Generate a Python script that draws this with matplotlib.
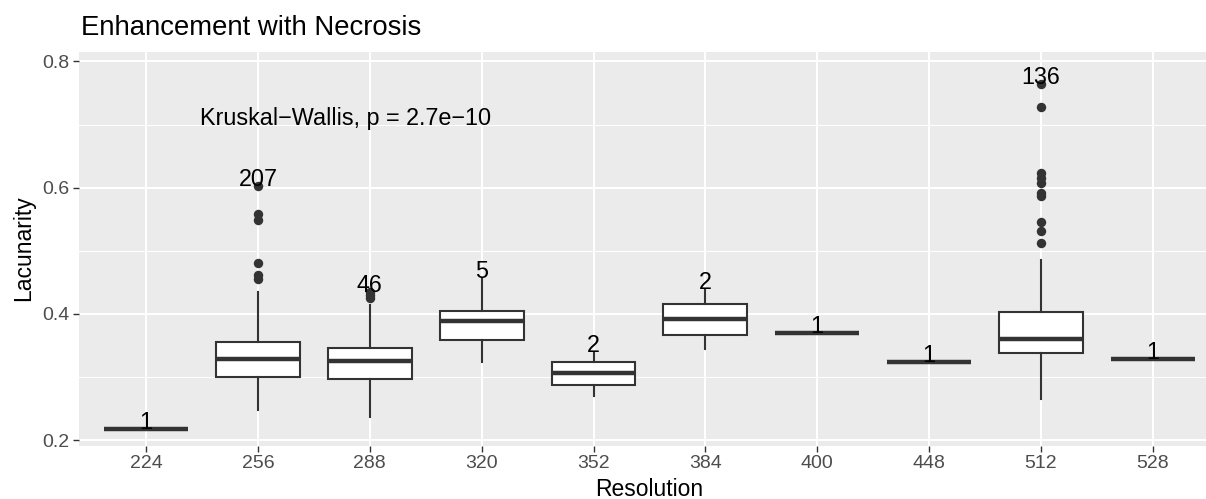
import numpy as np
import matplotlib
matplotlib.use("Agg")
import matplotlib.pyplot as plt

plt.rcParams['font.family'] = ['Liberation Sans', 'DejaVu Sans']

# Data (box stats per resolution)
resolution = ['224', '256', '288', '320', '352', '384', '400', '448', '512', '528']
counts = [1, 207, 46, 5, 2, 2, 1, 1, 136, 1]
q1 = [0.218, 0.2995, 0.2964, 0.3586, 0.2873, 0.3666, 0.3692, 0.3238, 0.3376, 0.3285]
med = [0.218, 0.3285, 0.3260, 0.3887, 0.3060, 0.3915, 0.3692, 0.3238, 0.3597, 0.3285]
q3 = [0.218, 0.3560, 0.3455, 0.4050, 0.3243, 0.4157, 0.3692, 0.3238, 0.4035, 0.3285]
whislo = [0.218, 0.2477, 0.2370, 0.3243, 0.2700, 0.3444, 0.3692, 0.3238, 0.2647, 0.3285]
whishi = [0.218, 0.4350, 0.4141, 0.4564, 0.3400, 0.4390, 0.3692, 0.3238, 0.4854, 0.3285]
outliers = [
    [],
    [0.6032, 0.558, 0.549, 0.480, 0.462, 0.456],
    [0.4346, 0.4300, 0.4252],
    [],
    [],
    [],
    [],
    [],
    [0.7638, 0.7284, 0.6238, 0.616, 0.607, 0.591, 0.5873, 0.546, 0.5314, 0.5119],
    [],
]
test_label = "Kruskal\u2212Wallis, p = 2.7e\u221210"

dark = '#333333'
fig = plt.figure(figsize=(12.06, 4.99), dpi=100)
ax = fig.add_axes([79/1206, 1 - 445.5/499, 1 - 79/1206, (445.5 - 51.7)/499])
ax.set_facecolor('#EBEBEB')

stats = []
for i in range(len(resolution)):
    stats.append(dict(med=med[i], q1=q1[i], q3=q3[i], whislo=whislo[i],
                      whishi=whishi[i], fliers=outliers[i], label=resolution[i]))

pos = np.arange(1, len(resolution) + 1)
ax.bxp(stats, positions=pos, widths=0.75, patch_artist=True, showcaps=False,
       boxprops=dict(facecolor='white', edgecolor=dark, linewidth=1.5),
       medianprops=dict(color=dark, linewidth=3.2, solid_capstyle='butt'),
       whiskerprops=dict(color=dark, linewidth=1.5),
       flierprops=dict(marker='o', markerfacecolor=dark, markeredgecolor='none',
                       markersize=6.8),
       zorder=3)

# count labels on top of each group
for i in range(len(resolution)):
    top = max([whishi[i]] + outliers[i])
    ax.text(pos[i], top, str(counts[i]), ha='center', va='baseline',
            fontsize=16.8, color='black', zorder=5)

ax.text(1.483, 0.71, test_label, ha='left', va='center', fontsize=16.8, color='black')

ax.set_xlim(0.4, 10.476)
ax.set_ylim(0.1914, 0.8155)
ax.set_xticks(pos)
ax.set_xticklabels(resolution)
ax.set_yticks([0.2, 0.4, 0.6, 0.8])
ax.set_yticklabels(['0.2', '0.4', '0.6', '0.8'])
ax.set_yticks([0.3, 0.5, 0.7], minor=True)
ax.grid(which='major', color='white', linewidth=1.5, zorder=0)
ax.grid(which='minor', axis='y', color='white', linewidth=0.75, zorder=0)
ax.set_axisbelow(True)
ax.tick_params(axis='both', which='major', length=4.3, width=1.0, color=dark,
               labelsize=14, labelcolor='#4D4D4D', pad=2.5)
ax.tick_params(axis='both', which='minor', length=0)
for s in ax.spines.values():
    s.set_visible(False)

fig.text(649/1206, 1 - 496/499, 'Resolution', ha='center', va='baseline', fontsize=16.5)
fig.text(24/1206, 1 - 248.6/499, 'Lacunarity', ha='center', va='center',
         rotation=90, fontsize=16.5)
fig.text(81/1206, 1 - 35/499, 'Enhancement with Necrosis', ha='left', va='baseline',
         fontsize=19.8)

fig.savefig('out.png', dpi=100)
